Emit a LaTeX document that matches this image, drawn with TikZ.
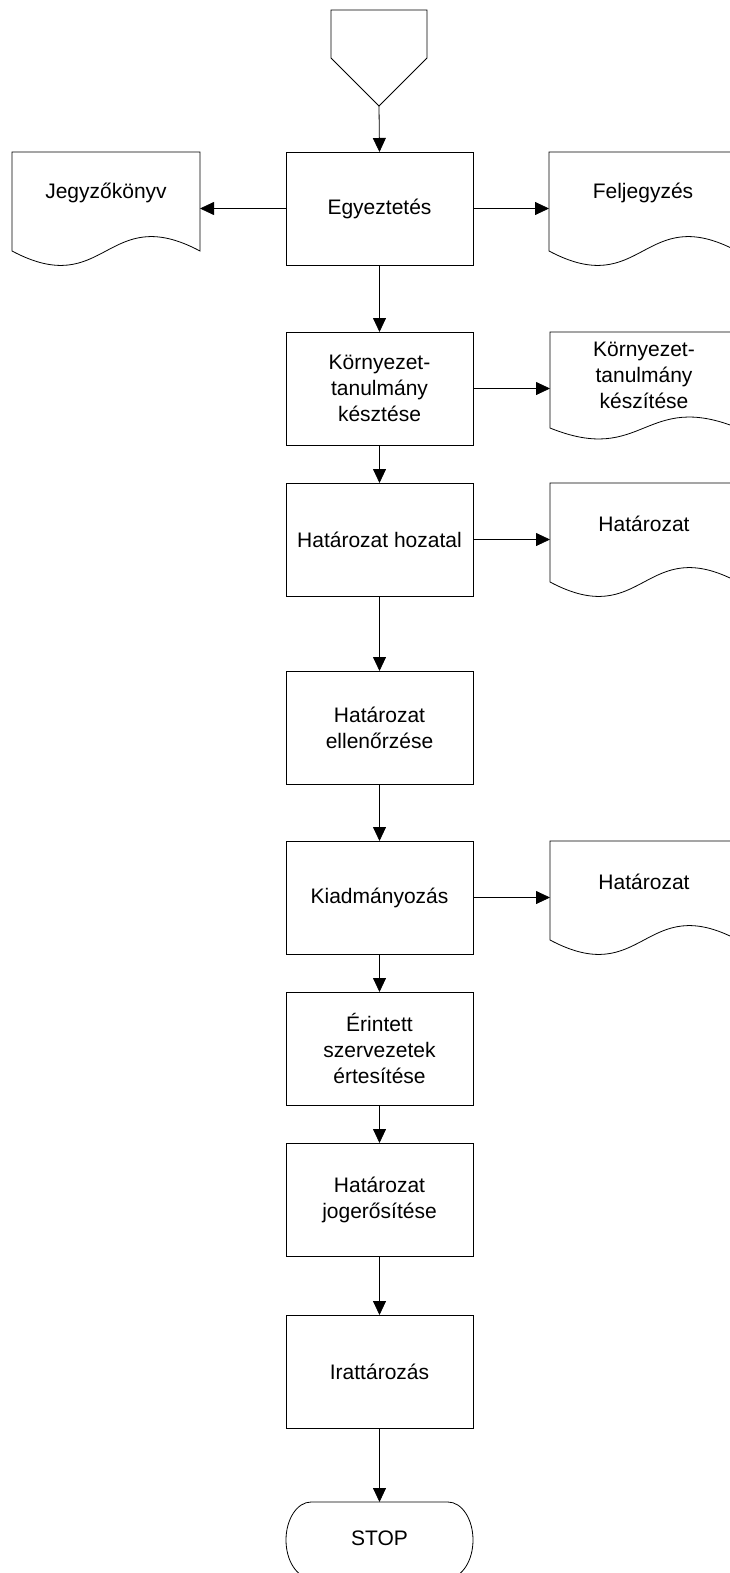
\documentclass[tikz,border=0pt]{standalone}
\usepackage{fontspec}
\setmainfont{Liberation Sans}
\usetikzlibrary{arrows.meta}

% Document symbol: frame node, outline with wavy bottom, and label
% #1 name, #2 left x, #3 top y, #4 width, #5 height, #6 side height,
% #7 wave control offset, #8 label y offset, #9 label
\newcommand{\docsym}[9]{%
  \node[frame, minimum width=#4*0.75pt, minimum height=#5*0.75pt] (#1) at (#2,#3) {};
  \draw (#2,#3) -- ({#2+#4},#3) -- ({#2+#4},{#3+#6})
    .. controls ({#2+0.5*#4},{#3+#6-#7}) and ({#2+0.5*#4},{#3+#6+#7}) ..
    (#2,{#3+#6}) -- cycle;
  \node[lbl] (#1-t) at ({#2+0.5*#4},{#3+#8}) {#9};
}

\begin{document}
\begin{tikzpicture}[x=0.75pt,y=-0.75pt,
  line width=0.6pt,
  lbl/.style={font=\fontsize{15.75pt}{19.5pt}\selectfont, align=center, inner sep=0pt},
  procbox/.style={draw, lbl, minimum width=140.25pt, minimum height=84.75pt,
    inner sep=0pt, outer sep=0pt, anchor=north west},
  frame/.style={draw=none, inner sep=0pt, outer sep=0pt, anchor=north west},
  arr/.style={-{Triangle[length=10.5pt,width=9.75pt]}},
]
\useasboundingbox (0,0) rectangle (729,1573);

% start: off-page connector
\node[frame, minimum width=72pt, minimum height=72pt] (start) at (331,10) {};
\draw (331,10) -- (427,10) -- (427,58) -- (379,106) -- (331,58) -- cycle;

% process steps
\node[procbox] (b1) at (286,152)  {Egyeztetés};
\node[procbox] (b2) at (286,332)  {Környezet-\\tanulmány\\késztése};
\node[procbox] (b3) at (286,483)  {Határozat hozatal};
\node[procbox] (b4) at (286,671)  {Határozat\\ellenőrzése};
\node[procbox] (b5) at (286,841)  {Kiadmányozás};
\node[procbox] (b6) at (286,992)  {Érintett\\szervezetek\\értesítése};
\node[procbox] (b7) at (286,1143) {Határozat\\jogerősítése};
\node[procbox] (b8) at (286,1315) {Irattározás};

% terminator
\node[frame, minimum width=140.25pt, minimum height=57pt] (stop) at (286,1502) {};
\draw (311,1502) -- (448,1502) arc[start angle=-90, end angle=90, x radius=25, y radius=38]
  -- (311,1578) arc[start angle=90, end angle=270, x radius=25, y radius=38] -- cycle;
\node[lbl] (stop-t) at (379.5,1538) {STOP};

% documents
\docsym{d0}{12}{152}{188}{113}{99}{50}{41}{Jegyzőkönyv}
\docsym{d1}{549}{152}{188}{113}{99}{50}{41}{Feljegyzés}
\docsym{d2}{550}{332}{188}{107}{96}{38}{43}{Környezet-\\tanulmány\\készítése}
\docsym{d3}{550}{483}{188}{113}{99}{50}{41}{Határozat}
\docsym{d4}{550}{841}{188}{113}{99}{50}{41}{Határozat}

% main flow
\draw[arr] (start.south) -- (b1.north);
\draw[arr] (b1.south) -- (b2.north);
\draw[arr] (b2.south) -- (b3.north);
\draw[arr] (b3.south) -- (b4.north);
\draw[arr] (b4.south) -- (b5.north);
\draw[arr] (b5.south) -- (b6.north);
\draw[arr] (b6.south) -- (b7.north);
\draw[arr] (b7.south) -- (b8.north);
\draw[arr] (b8.south) -- (stop.north);

% outputs
\draw[arr] (b1.west) -- (b1.west -| d0.east);
\draw[arr] (b1.east) -- (b1.east -| d1.west);
\draw[arr] (b2.east) -- (b2.east -| d2.west);
\draw[arr] (b3.east) -- (b3.east -| d3.west);
\draw[arr] (b5.east) -- (b5.east -| d4.west);
\end{tikzpicture}
\end{document}
